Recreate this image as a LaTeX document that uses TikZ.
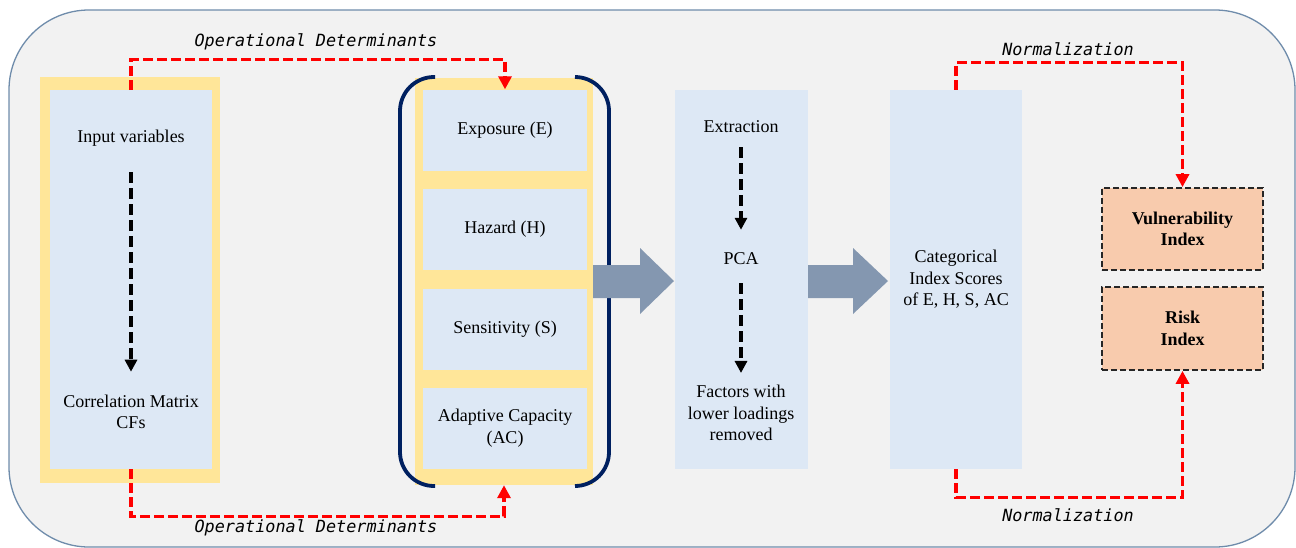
\documentclass[tikz,border=0pt]{standalone}
\usepackage{fontspec}
\setmainfont{Liberation Serif}
\setmonofont{DejaVu Sans Mono}
\usetikzlibrary{arrows.meta}
\definecolor{bggray}{HTML}{F2F2F2}
\definecolor{borderblue}{HTML}{6F8CAB}
\definecolor{frameyellow}{HTML}{FFE699}
\definecolor{panelblue}{HTML}{DDE8F5}
\definecolor{bracketnavy}{HTML}{002060}
\definecolor{arrowgray}{HTML}{8497B0}
\definecolor{indexorange}{HTML}{F8CBAD}
\begin{document}
\begin{tikzpicture}[x=1pt, y=-1pt,
outer-frame/.style = {draw={borderblue}, fill={bggray}, line width=1.3pt, rounded corners=80pt},
yellow-frame/.style = {fill={frameyellow}, inner sep=0pt},
panel/.style = {fill={panelblue}, inner sep=0pt, align=center, font=\fontsize{18}{21.5}\selectfont},
txt/.style = {align=center, inner sep=2pt, font=\fontsize{18}{21.5}\selectfont},
index-box/.style = {fill={indexorange}, draw=black!85, line width=1.8pt, dash pattern=on 6pt off 3pt,
    minimum width=161pt, inner sep=0pt, align=center, font=\bfseries\fontsize{18}{21.5}\selectfont},
bracket/.style = {draw={bracketnavy}, line width=3.8pt, rounded corners=34pt},
big-arrow/.style = {fill={arrowgray}},
step-link/.style = {draw=black, line width=3.6pt, dash pattern=on 11pt off 5pt, -{Triangle[length=12pt,width=12pt]}},
red-link/.style = {draw=red, line width=3.3pt, dash pattern=on 10pt off 4pt, -{Triangle[length=13pt,width=13pt]}},
link-label/.style = {font=\ttfamily\itshape\fontsize{16.8}{20}\selectfont}
]
\useasboundingbox (0,0) rectangle (1296,547);
\draw[outer-frame] (9,10) rectangle (1295,547);

% input variables
\node[yellow-frame, minimum width=180pt, minimum height=406pt] (inframe) at (130,280) {};
\node[panel, minimum width=162pt, minimum height=379pt] (inbox) at (131,279.5) {};
\node[txt] (invar) at (131,138) {Input variables};
\node[txt] (corr) at (131,412) {Correlation Matrix\\CFs};
\draw[step-link, shorten <=24pt, shorten >=21pt] (invar) -- (corr);

% determinants
\node[yellow-frame, minimum width=178pt, minimum height=407pt] (midframe) at (504,281.5) {};
\node[panel, minimum width=164pt, minimum height=81pt] (expo) at (505,130) {Exposure (E)};
\node[panel, minimum width=164pt, minimum height=81pt] (hazard) at (505,229) {Hazard (H)};
\node[panel, minimum width=164pt, minimum height=81pt] (sens) at (505,329) {Sensitivity (S)};
\node[panel, minimum width=164pt, minimum height=81pt] (adapt) at (505,428) {Adaptive Capacity\\(AC)};
\draw[bracket] (435,77) -- (400,77) -- (400,486) -- (435,486);
\draw[bracket] (575,77) -- (609,77) -- (609,486) -- (575,486);

\draw[red-link] (inbox.north) -- ++(0,-30) -| (expo.north);
\draw[red-link] (inbox.south) -- ++(0,47) -| (midframe.south);
\node[link-label] (odtop) at (316,42) {Operational Determinants};
\node[link-label] (odbot) at (316,528) {Operational Determinants};

% PCA
\fill[big-arrow] (593,265) -- (640,265) -- (640,248) -- (674,281) -- (640,314) -- (640,298) -- (593,298) -- cycle;
\node[panel, minimum width=133pt, minimum height=379pt] (pcabox) at (741.5,279.5) {};
\node[txt] (extr) at (741,127) {Extraction};
\node[txt] (pca) at (741,259) {PCA};
\node[txt] (fact) at (741,413) {Factors with\\lower loadings\\removed};
\draw[step-link, shorten <=12pt, shorten >=21pt] (extr) -- (pca);
\draw[step-link, shorten <=16pt, shorten >=10pt] (pca) -- (fact);

% index scores
\fill[big-arrow] (808,265) -- (853,265) -- (853,248) -- (888,281) -- (853,314) -- (853,298) -- (808,298) -- cycle;
\node[panel, minimum width=132pt, minimum height=379pt] (catbox) at (956,279.5) {Categorical\\Index Scores\\of E, H, S, AC};

\node[index-box, minimum height=82pt] (vuln) at (1182.5,229) {Vulnerability\\Index};
\node[index-box, minimum height=83pt] (risk) at (1182.5,328.5) {Risk\\Index};
\draw[red-link] (catbox.north) -- ++(0,-27) -| (vuln.north);
\draw[red-link] (catbox.south) -- ++(0,28) -| (risk.south);
\node[link-label] (nmtop) at (1068,49) {Normalization};
\node[link-label] (nmbot) at (1068,515) {Normalization};
\end{tikzpicture}
\end{document}
